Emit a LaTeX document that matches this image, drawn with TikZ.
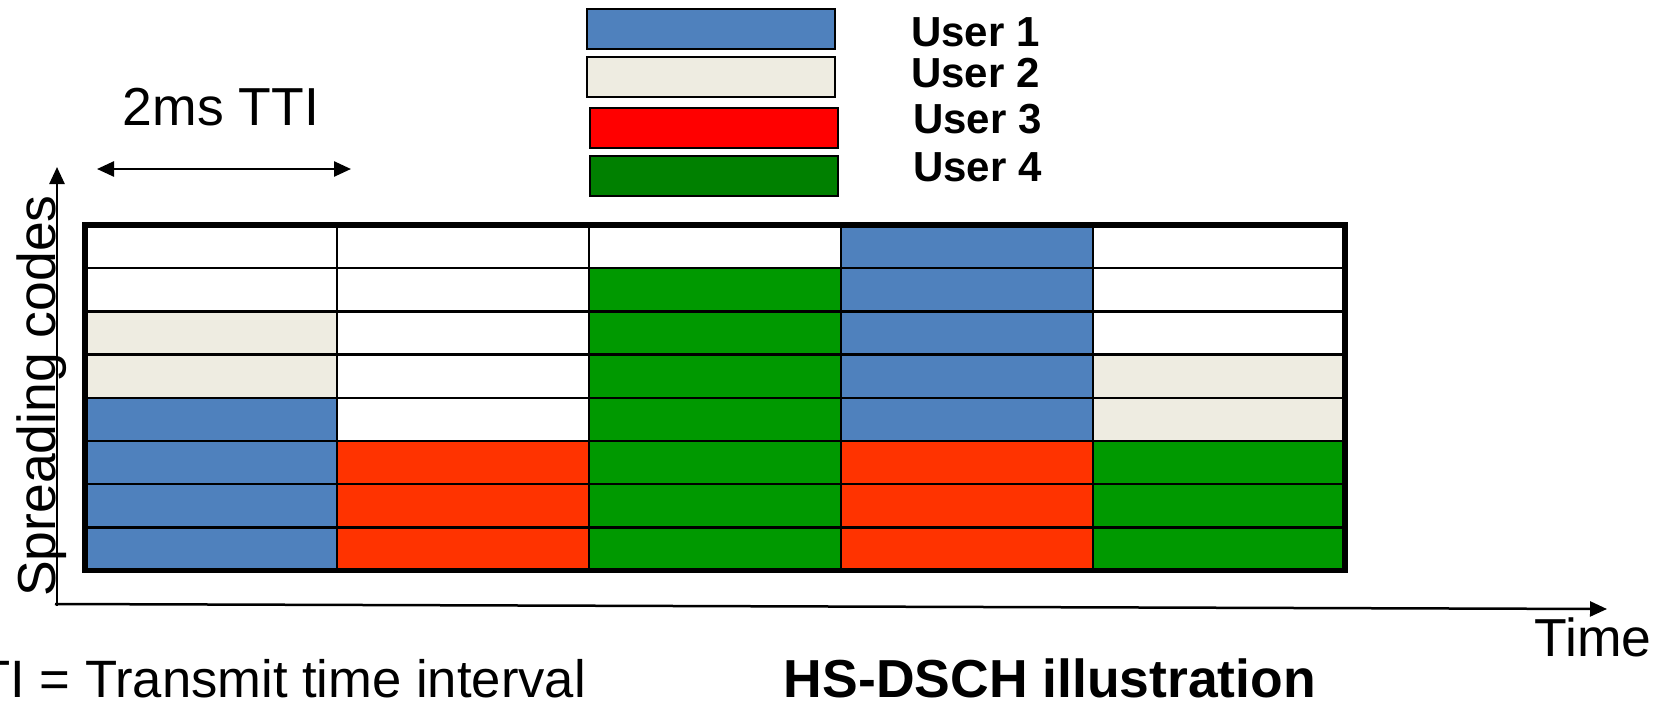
\documentclass[tikz,border=0pt]{standalone}
\usepackage{fontspec}
\setmainfont{Liberation Sans}
\usetikzlibrary{arrows.meta}
\definecolor{uone}{HTML}{4F81BD}
\definecolor{utwo}{HTML}{EEECE1}
\definecolor{uthree}{HTML}{FF0000}
\definecolor{ufour}{HTML}{008000}
\definecolor{gridred}{HTML}{FF3300}
\definecolor{gridgreen}{HTML}{009900}
\begin{document}
\begin{tikzpicture}[x=1pt,y=-1pt,
  big/.style={font=\fontsize{53.5}{60}\selectfont, inner sep=0pt},
  leg/.style={font=\fontsize{42}{48}\selectfont\bfseries, inner sep=0pt, anchor=base west},
  legbox/.style={draw=black, line width=2pt, minimum width=248pt, minimum height=40pt, inner sep=0pt},
  gridline/.style={line width=2.5pt, draw=black},
  axisline/.style={line width=2.5pt, -{Triangle[length=17pt,width=15pt]}},
  ttiarrow/.style={line width=2.5pt, {Triangle[length=17pt,width=15pt]}-{Triangle[length=17pt,width=15pt]}},
]
\useasboundingbox (0,0) rectangle (1666,702);

% legend
\node[legbox, fill=uone]   (lb1) at (711,29.3) {};
\node[legbox, fill=utwo]   (lb2) at (711,77.3) {};
\node[legbox, fill=uthree] (lb3) at (713.5,127.8) {};
\node[legbox, fill=ufour]  (lb4) at (713.5,175.8) {};
\node[leg] (lt1) at (911,46.7) {User 1};
\node[leg] (lt2) at (911,87.3) {User 2};
\node[leg] (lt3) at (913,133.5) {User 3};
\node[leg] (lt4) at (913,181.7) {User 4};

% cells
\foreach \c/\ra/\rb/\col in {0/2/4/utwo, 0/4/8/uone, 1/5/8/gridred, 2/1/8/gridgreen, 3/0/5/uone, 3/5/8/gridred, 4/3/5/utwo, 4/5/8/gridgreen}
  \fill[\col] ({85+252*\c},{225+43.2*\ra}) rectangle ({85+252*(\c+1)},{225+43.2*\rb});
\foreach \r in {1,...,7}
  \draw[gridline] (85,{225+43.2*\r}) -- (1345,{225+43.2*\r});
\foreach \c in {1,...,4}
  \draw[gridline] ({85+252*\c},225) -- ({85+252*\c},570.6);
\draw[line width=5.5pt] (85,225) rectangle (1345,570.6);

% axes
\coordinate (yorig) at (57,606);
\coordinate (ytip) at (57,167);
\coordinate (xorig) at (55,604);
\coordinate (xtip) at (1607,609);
\draw[axisline] (yorig) -- (ytip);
\draw[axisline] (xorig) -- (xtip);

% TTI arrow
\coordinate (ttia) at (97,169);
\coordinate (ttib) at (351,169);
\draw[ttiarrow] (ttia) -- (ttib);
\node[big, anchor=base] (tti) at (221,125) {2ms TTI};

% labels
\node[big, rotate=90, anchor=base west] (ylab) at (55,597) {Spreading codes};
\node[big, anchor=base] (xlab) at (1593,656) {Time};
\node[big, anchor=base east, font=\fontsize{52.6}{60}\selectfont] (ttidef) at (586,697) {TTI = Transmit time interval};
\node[big, anchor=base, font=\fontsize{53.5}{60}\selectfont\bfseries] (title) at (1050,697) {HS-DSCH illustration};
\end{tikzpicture}
\end{document}
